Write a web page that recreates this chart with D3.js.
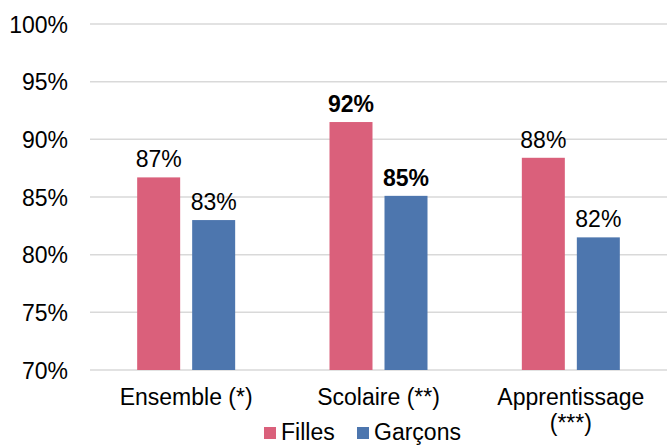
<!DOCTYPE html>
<html><head><meta charset="utf-8">
<script src="https://cdn.jsdelivr.net/npm/d3@7"></script>
<style>body{margin:0;background:#fff}svg{display:block;font-family:"Liberation Sans",Arial,sans-serif}</style>
</head><body>
<svg id="c" width="667" height="445"></svg>
<script>
const categories = ["Ensemble (*)", "Scolaire (**)", "Apprentissage (***)"];
const categoryLines = [["Ensemble (*)"], ["Scolaire (**)"], ["Apprentissage", "(***)"]];
const seriesNames = ["Filles", "Garçons"];
const filles = [86.7, 91.5, 88.4];
const garcons = [83.0, 85.1, 81.5];
const valueLabels = [["87%", "83%"], ["92%", "85%"], ["88%", "82%"]];
const boldCategory = [false, true, false];
const yTicks = [70, 75, 80, 85, 90, 95, 100];
const colors = ["#DA607B", "#4D76AE"];

(function () {
const svg = d3.select("#c");
const mLeft = 90, mRight = 667, mTop = 24, mBottom = 370;
const x = d3.scaleBand().domain(categories).range([mLeft, mRight]).padding(0);
const y = d3.scaleLinear().domain([70, 100]).range([mBottom, mTop]);
const barW = 43, gap = 12;
const sub = d3.scaleOrdinal().domain(seriesNames).range([-(gap/2 + barW), gap/2]);

// gridlines
svg.append("g").selectAll("line").data(yTicks).join("line")
  .attr("x1", mLeft).attr("x2", mRight)
  .attr("y1", d => y(d)).attr("y2", d => y(d))
  .attr("stroke", "#D9D9D9").attr("stroke-width", 1.5);

// y axis labels
const yAxis = d3.axisLeft(y).tickValues(yTicks).tickFormat(d => d + "%").tickSize(0).tickPadding(0);
const ya = svg.append("g").attr("transform", "translate(68,0)").call(yAxis);
ya.select(".domain").remove();
ya.selectAll("text").attr("font-size", 23).attr("fill", "#000").attr("font-family", "Liberation Sans, Arial, sans-serif").attr("dy", "0.35em");

const data = categories.map((c, i) => ({c, i, vals: [filles[i], garcons[i]]}));

const groups = svg.append("g").selectAll("g").data(data).join("g");
groups.each(function(d) {
  const g = d3.select(this);
  const cx = x(d.c) + x.bandwidth() / 2;
  seriesNames.forEach((s, j) => {
    const v = d.vals[j];
    const bx = cx + sub(s);
    g.append("rect").attr("x", bx).attr("width", barW)
      .attr("y", y(v)).attr("height", y(70) - y(v))
      .attr("fill", colors[j]);
    g.append("text").attr("x", bx + barW / 2).attr("y", y(v) - 10)
      .attr("text-anchor", "middle").attr("font-size", 23)
      .attr("font-weight", boldCategory[d.i] ? "bold" : "normal")
      .attr("fill", "#000").text(valueLabels[d.i][j]);
  });
  const t = g.append("text").attr("text-anchor", "middle").attr("font-size", 23).attr("fill", "#000");
  categoryLines[d.i].forEach((ln, k) => {
    t.append("tspan").attr("x", cx).attr("y", 405 + k * 26).text(ln);
  });
});

// legend
const legX = [264, 357];
seriesNames.forEach((s, j) => {
  svg.append("rect").attr("x", legX[j]).attr("y", 427).attr("width", 12).attr("height", 12).attr("fill", colors[j]);
  svg.append("text").attr("x", legX[j] + 17).attr("y", 440).attr("font-size", 23).attr("fill", "#000").text(s);
});
})();
</script>
</body></html>
